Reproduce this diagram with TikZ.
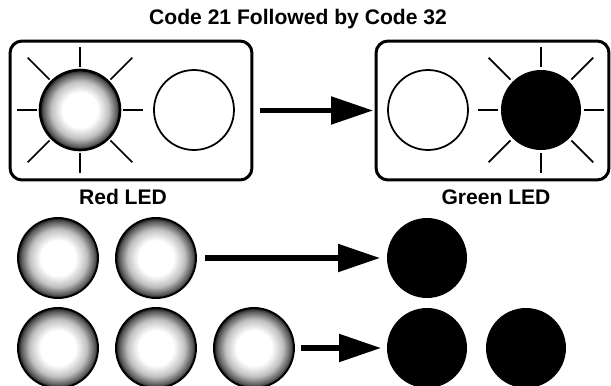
\documentclass[tikz,border=0pt]{standalone}
\usepackage{fontspec}
\setmainfont{Liberation Sans}
\usetikzlibrary{positioning, arrows.meta}
\pgfdeclareradialshading{ledglow}{\pgfpointorigin}{color(0bp)=(white); color(11bp)=(white); color(18bp)=(black!25); color(23bp)=(black!65); color(25bp)=(black!90); color(50bp)=(black)}

\begin{document}
\begin{tikzpicture}[x=0.02cm, y=-0.02cm,
      panel/.style={draw, line width=1.7pt, rounded corners=0.24cm, minimum width=4.84cm,
                    minimum height=2.78cm, inner sep=0pt, outer sep=0pt},
      glowled/.style={circle, draw, line width=1.1pt, shading=ledglow, minimum size=1.6cm, inner sep=0pt, outer sep=0pt},
      offled/.style={circle, draw, line width=1pt, fill=white, minimum size=1.6cm, inner sep=0pt, outer sep=0pt},
      onled/.style={circle, fill=black, minimum size=1.6cm, inner sep=0pt, outer sep=0pt},
      ray/.style={line width=1pt},
      lbl/.style={font=\bfseries\fontsize{12}{14}\selectfont},
      arr/.style={-{Triangle[length=0.84cm, width=0.54cm]}, line width=3pt}]
    \clip (0,0) rectangle (611,385);
    \node[lbl] (title) at (298,19) {Code 21 Followed by Code 32};
    \node[panel] (redbox) at (131,110.5) {};
    \node[panel, minimum width=4.66cm] (greenbox) at (492.5,110.5) {};
    \node[glowled, line width=1.5pt] (red) at (80,110) {};
    \node[offled, right=0.68cm of red] (redoff) {};
    \node[offled] (greenoff) at (428,110) {};
    \node[onled, right=0.66cm of greenoff] (green) {};
    \foreach \led in {red, green} {
      \foreach \a in {0,90,180,270}
        \draw[ray] ([shift={(\a:43)}]\led.center) -- ([shift={(\a:63)}]\led.center);
      \foreach \a in {45,135,225,315}
        \draw[ray] ([shift={(\a:43)}]\led.center) -- ([shift={(\a:74)}]\led.center);
    }
    \node[lbl] (redlbl) at (123,197) {Red LED};
    \node[lbl] (greenlbl) at (496,197) {Green LED};
    \draw[arr, shorten <=0.16cm, shorten >=0.06cm] (redbox) -- (greenbox);
    \node[glowled] (a1) at (58,258) {};
    \node[glowled, right=0.36cm of a1] (a2) {};
    \node[onled] (b1) at (427,258) {};
    \node[glowled] (c1) at (58,348) {};
    \node[glowled, right=0.36cm of c1] (c2) {};
    \node[glowled, right=0.36cm of c2] (c3) {};
    \node[onled] (d1) at (427,348) {};
    \node[onled, right=0.38cm of d1] (d2) {};
    \draw[arr, shorten <=0.18cm, shorten >=0.14cm] (a2) -- (b1);
    \draw[arr, shorten <=0.14cm, shorten >=0.12cm] (c3) -- (d1);
  \end{tikzpicture}
\end{document}
